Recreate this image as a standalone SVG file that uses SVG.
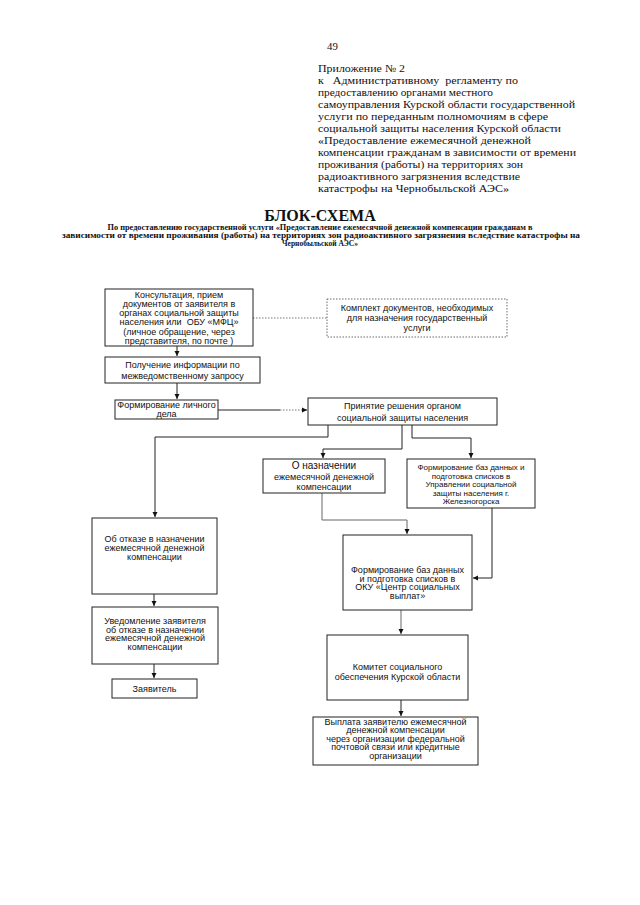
<svg xmlns="http://www.w3.org/2000/svg" width="640" height="905" viewBox="0 0 640 905">
<defs>
<marker id="ah" markerWidth="6" markerHeight="6" refX="5" refY="3" orient="auto" markerUnits="userSpaceOnUse">
<path d="M0,0.5 L5,3 L0,5.5 Z" fill="#111"/>
</marker>
</defs>
<style>
.hd{font-family:"Liberation Serif","Times New Roman",serif;font-size:10.8px;fill:#111}
.tt{font-family:"Liberation Serif","Times New Roman",serif;font-weight:bold;fill:#111}
.bx{fill:#fff;stroke:#222;stroke-width:1}
.dbx{fill:#fff;stroke:#444;stroke-width:0.8;stroke-dasharray:1.5,1.5}
.t{font-family:"Liberation Sans",Arial,sans-serif;font-size:9px;fill:#111;text-anchor:middle}
.ts{font-family:"Liberation Sans",Arial,sans-serif;font-size:8px;fill:#111;text-anchor:middle}
.c{fill:none;stroke:#222;stroke-width:1}
.cg{fill:none;stroke:#666;stroke-width:1}
.cd{fill:none;stroke:#555;stroke-width:0.8;stroke-dasharray:1.5,1.5}
</style>
<rect width="640" height="905" fill="#fff"/>
<g id="header">
<text x="327" y="50" class="hd" font-size="13">49</text>
<text class="hd" x="318" y="72" textLength="87" lengthAdjust="spacingAndGlyphs">Приложение № 2</text>
<text class="hd" x="318" y="84" textLength="200" lengthAdjust="spacingAndGlyphs" xml:space="preserve">к   Административному  регламенту по</text>
<text class="hd" x="318" y="96" textLength="175" lengthAdjust="spacingAndGlyphs">предоставлению органами местного</text>
<text class="hd" x="318" y="108" textLength="257" lengthAdjust="spacingAndGlyphs">самоуправления Курской области государственной</text>
<text class="hd" x="318" y="120" textLength="230" lengthAdjust="spacingAndGlyphs">услуги по переданным полномочиям в сфере</text>
<text class="hd" x="318" y="132" textLength="243" lengthAdjust="spacingAndGlyphs">социальной защиты населения Курской области</text>
<text class="hd" x="318" y="144" textLength="213" lengthAdjust="spacingAndGlyphs">«Предоставление ежемесячной денежной</text>
<text class="hd" x="318" y="156" textLength="258" lengthAdjust="spacingAndGlyphs">компенсации гражданам в зависимости от времени</text>
<text class="hd" x="318" y="168" textLength="205" lengthAdjust="spacingAndGlyphs">проживания (работы) на территориях зон</text>
<text class="hd" x="318" y="180" textLength="202" lengthAdjust="spacingAndGlyphs">радиоактивного загрязнения вследствие</text>
<text class="hd" x="318" y="192" textLength="191" lengthAdjust="spacingAndGlyphs">катастрофы на Чернобыльской АЭС»</text>
</g>
<g id="title">
<text x="320" y="221" class="tt" font-size="16" text-anchor="middle">БЛОК-СХЕМА</text>
<text x="320" y="230" class="tt" font-size="7.5" text-anchor="middle" textLength="425" lengthAdjust="spacingAndGlyphs">По предоставлению государственной услуги «Предоставление ежемесячной денежной компенсации гражданам в</text>
<text x="321" y="238" class="tt" font-size="7.5" text-anchor="middle" textLength="518" lengthAdjust="spacingAndGlyphs">зависимости от времени проживания (работы) на территориях зон радиоактивного загрязнения вследствие катастрофы на</text>
<text x="320" y="246" class="tt" font-size="7.5" text-anchor="middle">Чернобыльской АЭС»</text>
</g>
<g id="connectors">
<path class="c" d="M177,346 V356" marker-end="url(#ah)"/>
<path class="c" d="M177,383 V399" marker-end="url(#ah)"/>
<path class="cd" d="M253,318 H327"/>
<path class="c" d="M218,410 H280"/>
<path class="cd" d="M280,410 H302"/>
<path class="c" d="M302,410 H307" marker-end="url(#ah)"/>
<path class="c" d="M328,425 V437 H155 V517" marker-end="url(#ah)"/>
<path class="c" d="M402,425 V449 H323 V458" marker-end="url(#ah)"/>
<path class="c" d="M412,425 V438 H471 V458" marker-end="url(#ah)"/>
<path class="cg" d="M322,493 V520 H407 V534" marker-end="url(#ah)"/>
<path class="c" d="M492,508 V578 H473" marker-end="url(#ah)"/>
<path class="c" d="M154,594 V606" marker-end="url(#ah)"/>
<path class="c" d="M154,664 V678" marker-end="url(#ah)"/>
<path class="cg" d="M401,610 V634" marker-end="url(#ah)"/>
<path class="c" d="M401,700 V716" marker-end="url(#ah)"/>
</g>
<g id="n_consult">
<rect class="bx" x="105" y="289" width="148" height="57"/>
<text class="t" x="179"><tspan x="179" y="297.5">Консультация, прием</tspan><tspan x="179" y="306.8">документов от заявителя в</tspan><tspan x="179" y="316.1">органах социальной защиты</tspan><tspan x="179" y="325.4" xml:space="preserve">населения или  ОБУ «МФЦ»</tspan><tspan x="179" y="334.7">(личное обращение, через</tspan><tspan x="179" y="344">представителя, по почте )</tspan></text>
</g>
<g id="n_docs">
<rect class="dbx" x="327" y="299" width="180" height="38"/>
<text class="t" x="417"><tspan x="417" y="311">Комплект документов, необходимых</tspan><tspan x="417" y="321">для назначения государственный</tspan><tspan x="417" y="331">услуги</tspan></text>
</g>
<g id="n_info">
<rect class="bx" x="105" y="357" width="155" height="26"/>
<text class="t" x="182.5" font-size="9.5"><tspan x="182.5" y="368">Получение информации по</tspan><tspan x="182.5" y="379">межведомственному запросу</tspan></text>
</g>
<g id="n_delo">
<rect class="bx" x="115" y="400" width="103" height="19"/>
<text class="t" x="166.5" font-size="8.5"><tspan x="166.5" y="407.5">Формирование личного</tspan><tspan x="166.5" y="416.5">дела</tspan></text>
</g>
<g id="n_decision">
<rect class="bx" x="308" y="398" width="189" height="27"/>
<text class="t" x="402.5" font-size="10"><tspan x="402.5" y="409">Принятие решения органом</tspan><tspan x="402.5" y="421">социальной защиты населения</tspan></text>
</g>
<g id="n_naznach">
<rect class="bx" x="263" y="459" width="122" height="34"/>
<text class="t" x="324" font-size="9.5"><tspan x="324" y="469" font-size="10">О назначении</tspan><tspan x="324" y="479.5">ежемесячной денежной</tspan><tspan x="324" y="490">компенсации</tspan></text>
</g>
<g id="n_upravl">
<rect class="bx" x="407" y="459" width="128" height="49"/>
<text class="ts" x="471"><tspan x="471" y="470">Формирование баз данных и</tspan><tspan x="471" y="478.5">подготовка списков в</tspan><tspan x="471" y="487">Управлении социальной</tspan><tspan x="471" y="495.5">защиты населения г.</tspan><tspan x="471" y="504">Железногорска</tspan></text>
</g>
<g id="n_otkaz">
<rect class="bx" x="92" y="518" width="125" height="76"/>
<text class="t" x="154.5"><tspan x="154.5" y="542">Об отказе в назначении</tspan><tspan x="154.5" y="551">ежемесячной денежной</tspan><tspan x="154.5" y="560">компенсации</tspan></text>
</g>
<g id="n_oku">
<rect class="bx" x="343" y="535" width="129" height="75"/>
<text class="t" x="407.5"><tspan x="407.5" y="573">Формирование баз данных</tspan><tspan x="407.5" y="581.5">и подготовка списков в</tspan><tspan x="407.5" y="590">ОКУ «Центр социальных</tspan><tspan x="407.5" y="598.5">выплат»</tspan></text>
</g>
<g id="n_uved">
<rect class="bx" x="92" y="607" width="126" height="57"/>
<text class="t" x="155"><tspan x="155" y="624">Уведомление заявителя</tspan><tspan x="155" y="632.5">об отказе в назначении</tspan><tspan x="155" y="641">ежемесячной денежной</tspan><tspan x="155" y="649.5">компенсации</tspan></text>
</g>
<g id="n_zayav">
<rect class="bx" x="112" y="679" width="85" height="19"/>
<text class="t" x="154.5" y="692">Заявитель</text>
</g>
<g id="n_komitet">
<rect class="bx" x="327" y="635" width="141" height="65"/>
<text class="t" x="397.5"><tspan x="397.5" y="670">Комитет социального</tspan><tspan x="397.5" y="679.5">обеспечения Курской области</tspan></text>
</g>
<g id="n_vyplata">
<rect class="bx" x="313" y="717" width="165" height="48"/>
<text class="t" x="395.5"><tspan x="395.5" y="724.5">Выплата заявителю ежемесячной</tspan><tspan x="395.5" y="733">денежной компенсации</tspan><tspan x="395.5" y="741.5">через организации федеральной</tspan><tspan x="395.5" y="750">почтовой связи или кредитные</tspan><tspan x="395.5" y="758.5">организации</tspan></text>
</g>
</svg>
